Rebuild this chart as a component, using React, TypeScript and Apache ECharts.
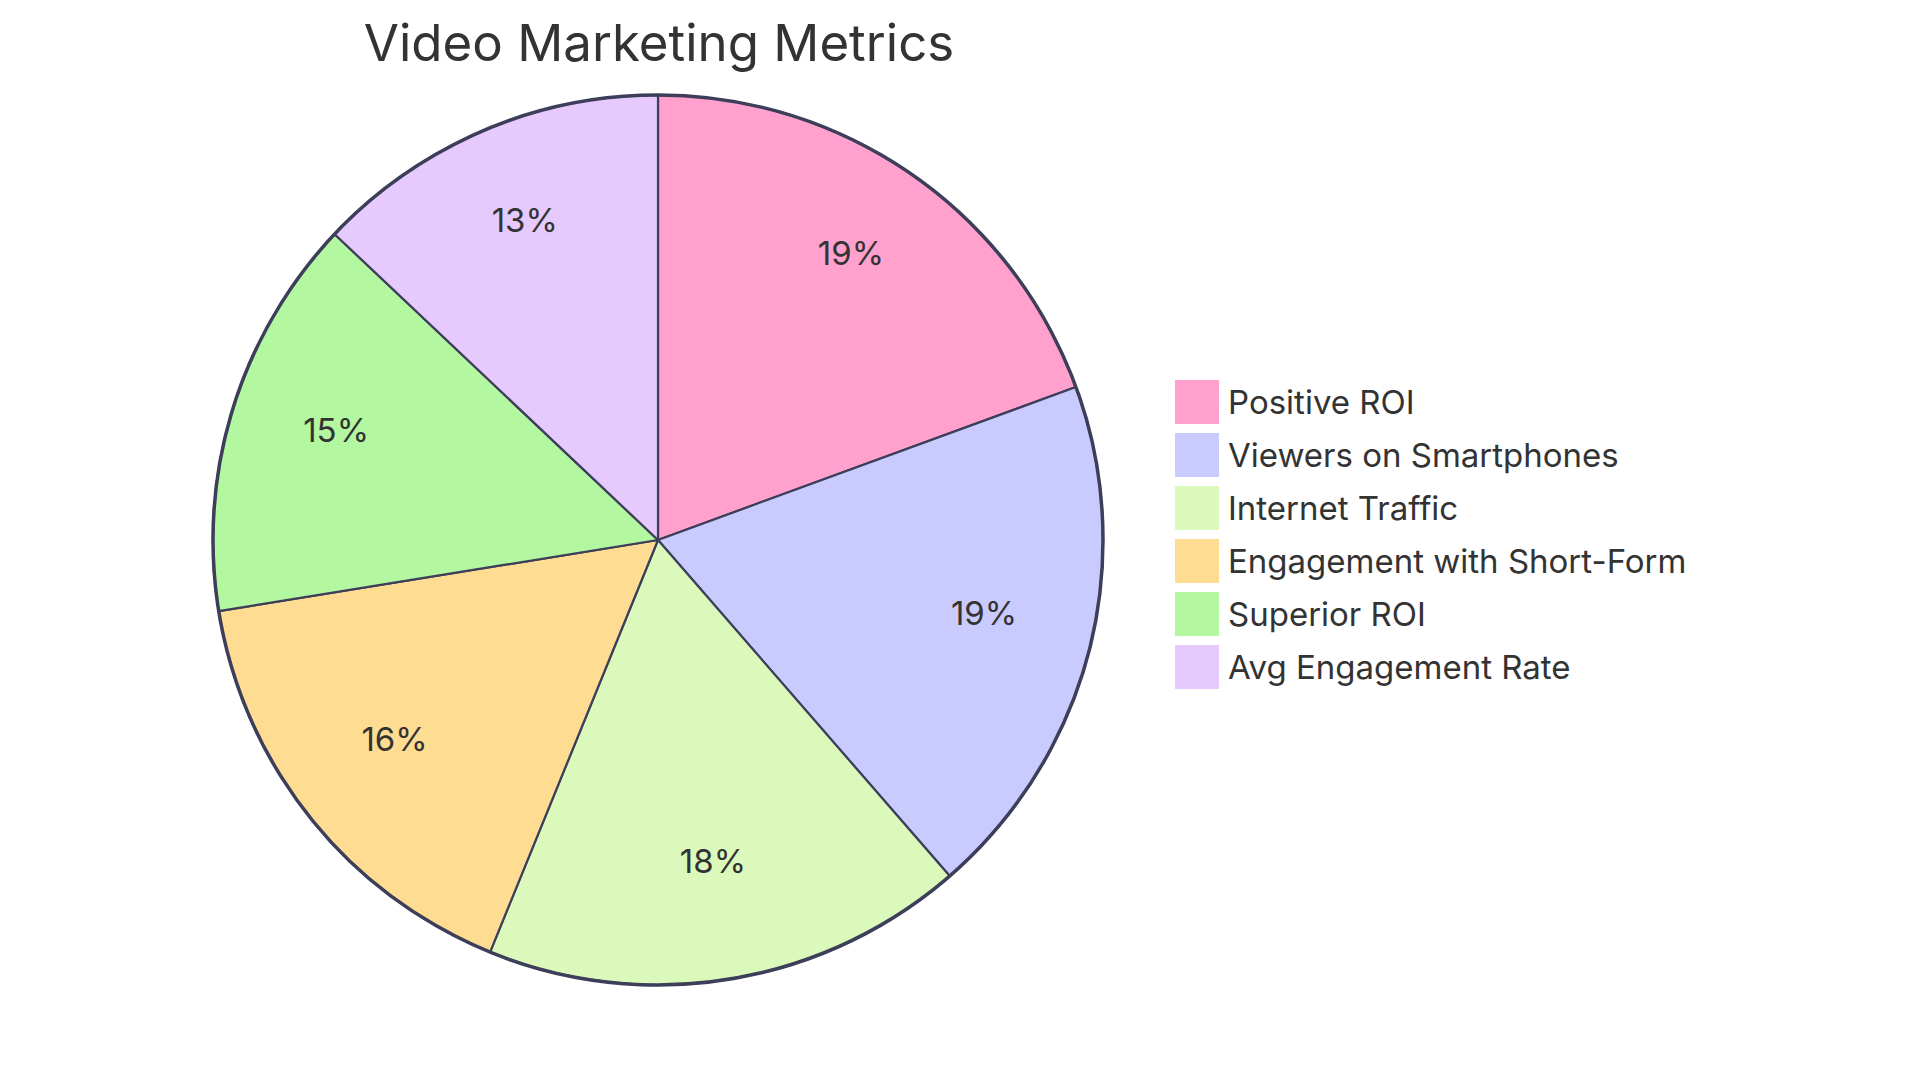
import React, { useEffect, useRef } from "react";
import * as echarts from "echarts";

const categories = [
  "Positive ROI",
  "Viewers on Smartphones",
  "Internet Traffic",
  "Engagement with Short-Form",
  "Superior ROI",
  "Avg Engagement Rate",
];
const values = [93, 92, 84, 78, 70, 62];
const colors = ["#FFA1CC", "#C9CBFE", "#DBF9BA", "#FEDD93", "#B3F8A0", "#E6CAFE"];
const titleText = "Video Marketing Metrics";

const FONT = "Inter, 'Noto Sans', sans-serif";
const STROKE = "#3d3e5a";
const CX = 658;
const CY = 540;
const R = 445;

export default function App() {
  const ref = useRef<HTMLDivElement>(null);
  useEffect(() => {
    if (!ref.current) return;
    const chart = echarts.init(ref.current, undefined, { renderer: "svg" });
    const data = categories.map((name, i) => ({
      name,
      value: values[i],
      itemStyle: { color: colors[i] },
    }));
    chart.setOption({
      animation: false,
      backgroundColor: "#ffffff",
      title: {
        text: titleText,
        left: 654,
        top: 12,
        textAlign: "center",
        textStyle: {
          fontFamily: FONT,
          fontSize: 51,
          fontWeight: "normal",
          color: "#333333",
        },
      },
      legend: {
        orient: "vertical",
        left: 1170,
        top: 375,
        itemWidth: 44,
        itemHeight: 44,
        itemGap: 9,
        icon: "rect",
        data: categories,
        itemStyle: { borderWidth: 0 },
        textStyle: {
          fontFamily: FONT,
          fontSize: 33,
          color: "#333333",
          padding: [0, 0, 0, 4],
        },
        selectedMode: false,
      },
      graphic: [
        {
          type: "circle",
          shape: { cx: CX, cy: CY, r: R },
          style: { fill: "none", stroke: STROKE, lineWidth: 3.5 },
          z: 100,
          silent: true,
        },
      ],
      series: [
        {
          type: "pie",
          center: [CX, CY],
          radius: [0, R],
          startAngle: 90,
          clockwise: true,
          data,
          label: { show: false },
          labelLine: { show: false },
          itemStyle: { borderColor: STROKE, borderWidth: 2.2 },
          emphasis: { disabled: true },
          silent: true,
        },
        {
          type: "pie",
          center: [CX, CY],
          radius: [R / 2, R],
          startAngle: 90,
          clockwise: true,
          data: categories.map((name, i) => ({ name: name + " ", value: values[i] })),
          itemStyle: { color: "rgba(0,0,0,0)", borderWidth: 0 },
          label: {
            show: true,
            position: "inside",
            formatter: (p: any) => Math.round(p.percent) + "%",
            fontFamily: FONT,
            fontSize: 33,
            color: "#333333",
            offset: [0, -11],
          },
          labelLine: { show: false },
          emphasis: { disabled: true },
          silent: true,
          z: 5,
        },
      ],
    });
    return () => chart.dispose();
  }, []);
  return (
    <div
      ref={ref}
      style={{ position: "absolute", left: 0, top: 0, width: 1920, height: 1083 }}
    />
  );
}
